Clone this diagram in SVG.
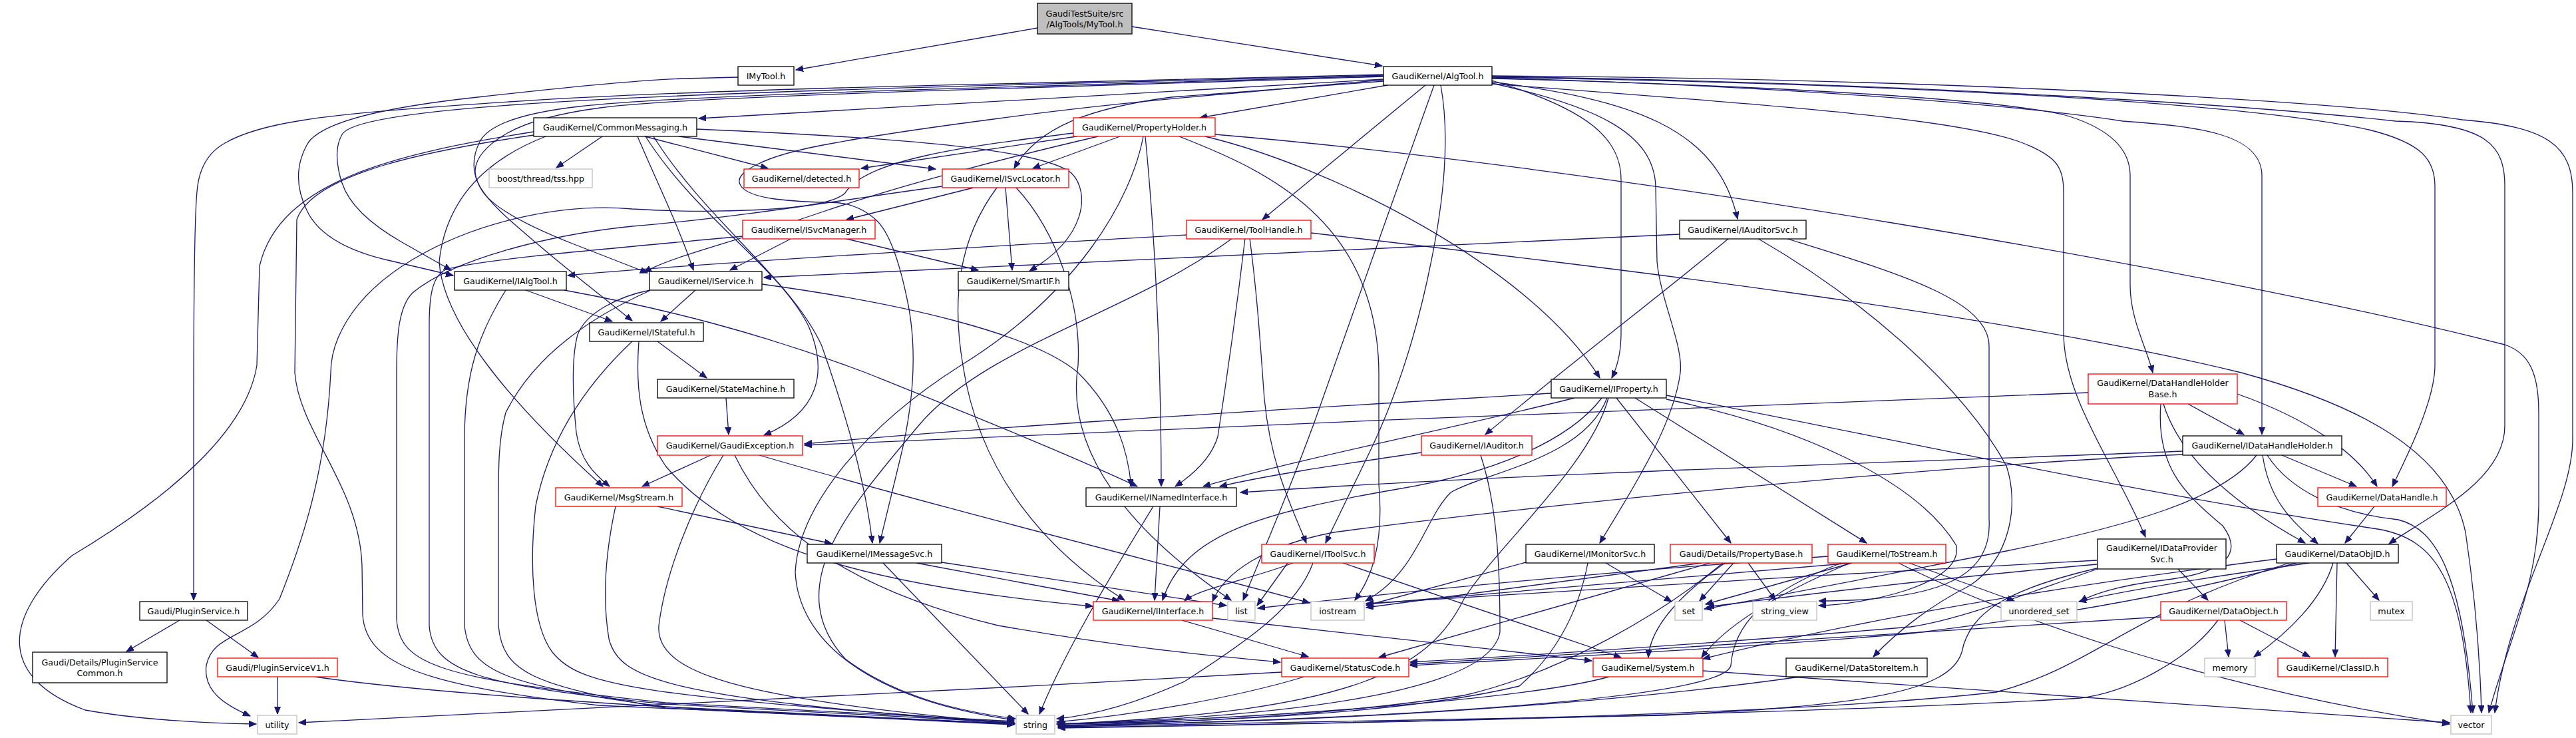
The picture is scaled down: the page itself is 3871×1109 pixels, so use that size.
<svg xmlns="http://www.w3.org/2000/svg" width="3871" height="1109" viewBox="0 0 3871 1109">
<style>
.node rect{fill:#fff;stroke:#000;stroke-width:1.3}
.node.red rect{stroke:#ff0000}
.node.sys rect{stroke:#bfbfbf}
.node.root rect{fill:#bfbfbf}
.node text{font-family:"DejaVu Sans","Liberation Sans",sans-serif;font-size:12.65px;fill:#000;text-anchor:middle}
#edges path{fill:none;stroke:#191970;stroke-width:1.3;marker-end:url(#a)}
</style>
<defs>
<marker id="a" markerUnits="userSpaceOnUse" markerWidth="14" markerHeight="12" refX="11" refY="4.5" orient="auto"><path d="M0,0 L11,4.5 L0,9 z" fill="#191970" stroke="#191970" stroke-width="1"/></marker>
</defs>
<rect x="0" y="0" width="3871" height="1109" fill="#fff"/>
<g id="edges">
<path d="M1559,42 L1196,105"/>
<path d="M1701,40 L2077,99"/>
<path d="M1109,116 L1030,118 Q950,120 718,146 Q485,171 461,218 Q436,264 461,316 Q485,368 583,391 L681,414"/>
<path d="M2079,119 L1050,178"/>
<path d="M2085,128 L1803,177"/>
<path d="M2079,122 L1760,146 C1640,162 1560,190 1524,253"/>
<path d="M2142,128 L1897,330"/>
<path d="M2079,113 L1540,127 Q1000,141 765,158 Q529,175 514,202 Q499,229 514,275 Q529,321 604,364 L678,406"/>
<path d="M2079,114 L1540,130 Q1000,145 870,160 Q740,175 721,213 Q702,250 724,286 Q746,321 860,366 L973,410"/>
<path d="M2079,115 L1540,132 Q1000,148 902,162 Q804,175 759,202 Q714,229 714,258 Q714,286 772,336 Q829,386 890,434 L950,482"/>
<path d="M2079,112 L1540,125 Q1000,137 765,153 Q529,168 453,181 Q376,193 338,215 Q300,236 296,288 Q291,339 291,620 L291,902"/>
<path d="M2079,120 L1866,139 Q1652,157 1493,179 Q1333,200 1253,215 Q1173,229 1138,247 Q1103,264 1113,279 Q1122,293 1164,299 Q1205,304 1247,304 Q1288,304 1317,331 Q1345,357 1365,459 Q1384,560 1353,688 L1322,816"/>
<path d="M2165,128 Q2184,232 2150,396 Q2117,560 2054,688 L1992,816"/>
<path d="M2155,128 L2078,344 Q2002,560 1976,632 Q1950,703 1909,803 L1868,902"/>
<path d="M2242,123 C2450,150 2580,190 2611,329"/>
<path d="M2242,121 C2390,165 2436,210 2436,270 L2436,500 Q2436,540 2422,568"/>
<path d="M2242,125 C2400,160 2485,200 2488,280 L2490,393 C2495,450 2530,520 2525,560 C2515,640 2450,740 2404,816"/>
<path d="M2242,118 C2700,130 3000,150 3100,172 C3180,195 3201,230 3201,264 L3201,428 C3201,480 3225,520 3235,560"/>
<path d="M2242,117 C2700,130 3050,160 3190,182 C3300,190 3399,200 3399,264 L3399,653"/>
<path d="M2242,116 C2800,125 3350,150 3560,195 C3640,215 3659,240 3659,280 L3659,549 C3659,600 3620,680 3595,731"/>
<path d="M2242,115 C2900,125 3400,160 3600,182 C3740,186 3764,220 3764,280 L3764,640 C3764,720 3660,770 3590,817"/>
<path d="M2242,114 C2900,118 3500,150 3700,180 C3830,190 3866,220 3866,290 L3866,660 C3866,760 3770,900 3749,1071"/>
<path d="M2242,126 C2700,160 2950,180 3040,215 C3090,235 3101,250 3101,290 L3101,500 C3101,600 3180,700 3224,807"/>
<path d="M905,205 L836,252"/>
<path d="M969,205 L1154,253"/>
<path d="M1020,205 L1406,254"/>
<path d="M1047,194 C1300,205 1560,220 1610,260 C1640,290 1630,360 1547,407"/>
<path d="M958,205 C990,280 1020,340 1042,406"/>
<path d="M982,205 C1060,330 1190,420 1235,520 C1270,620 1300,720 1311,816"/>
<path d="M970,205 C1050,330 1170,400 1215,490 C1245,560 1230,620 1148,654"/>
<path d="M820,205 C730,240 670,300 660,393 C665,480 760,600 906,731"/>
<path d="M802,198 C600,230 420,270 390,400 L386,549 C370,650 250,750 108,835 C0,930 0,1020 128,1067 C200,1080 300,1087 385,1088"/>
<path d="M802,203 C650,225 470,260 446,330 L443,560 C450,650 540,730 544,850 L545,924 C550,1000 640,1030 900,1060 L1525,1088"/>
<path d="M1618,205 L1294,253"/>
<path d="M1683,205 L1552,253"/>
<path d="M1811,205 C2000,250 2300,400 2404,568"/>
<path d="M1772,205 C1900,255 2070,330 2072,560 L2072,728 C2080,820 2060,870 2036,902"/>
<path d="M1826,202 C2400,250 3300,400 3764,518 C3800,530 3815,560 3815,620 L3815,756 C3815,880 3770,960 3740,1071"/>
<path d="M1721,205 C1740,400 1745,600 1745,731"/>
<path d="M1613,200 C1450,220 1300,240 1270,290 C1240,320 1050,320 950,314 C850,305 720,330 620,390 C520,450 497,520 497,560 C490,700 460,800 420,900 C380,960 320,950 310,1000 C305,1040 340,1060 376,1076"/>
<path d="M1650,205 C1500,240 1350,280 1237,318 C1100,365 1010,385 968,409"/>
<path d="M1718,205 C1700,300 1620,440 1444,549 C1300,640 1200,760 1195,860 C1200,960 1300,1050 1524,1082"/>
<path d="M1463,282 L1272,330"/>
<path d="M1511,282 L1521,406"/>
<path d="M1498,282 C1440,360 1430,450 1447,549 C1470,700 1560,820 1690,902"/>
<path d="M1527,282 C1590,350 1625,460 1620,549 C1600,680 1700,800 1850,902"/>
<path d="M1416,280 C1300,295 1113,327 950,340 C823,353 680,390 620,440 C600,460 596,500 596,560 L596,930 C600,1000 660,1020 1000,1056 L1524,1084"/>
<path d="M1190,358 L1097,406"/>
<path d="M1268,358 L1470,406"/>
<path d="M1116,355 C900,375 720,390 670,405 C648,415 645,450 645,490 L645,940 C650,1010 720,1030 1000,1058 L1524,1086"/>
<path d="M1783,353 C1400,375 1000,400 853,414"/>
<path d="M1871,358 C1860,450 1845,560 1830,656 C1820,690 1790,715 1766,731"/>
<path d="M1878,358 C1890,450 1894,520 1900,600 C1910,700 1940,760 1963,816"/>
<path d="M1852,358 C1700,470 1480,520 1380,640 C1280,760 1170,880 1270,990 C1350,1050 1450,1070 1526,1080"/>
<path d="M1970,350 C2400,400 3000,470 3368,560 C3550,610 3680,680 3705,800 C3720,900 3727,1000 3729,1071"/>
<path d="M2524,352 C2200,365 1700,390 1148,417"/>
<path d="M2598,358 C2500,440 2380,530 2232,653"/>
<path d="M2641,358 C2800,450 2950,580 3015,700 C3035,760 3020,840 2960,880 C2900,910 2850,950 2815,987"/>
<path d="M2683,358 C2850,410 2989,450 2989,520 L2989,780 C2994,860 2930,903 2733,903"/>
<path d="M790,436 L920,483"/>
<path d="M848,436 C1000,464 1141,500 1301,560 C1450,620 1600,680 1709,731"/>
<path d="M760,436 C720,500 698,560 698,660 L698,940 C705,1010 760,1030 1000,1062 L1524,1088"/>
<path d="M1045,436 L993,483"/>
<path d="M1145,427 C1350,455 1550,500 1620,560 C1680,620 1695,680 1700,731"/>
<path d="M976,437 C880,480 800,540 760,620 C749,660 749,700 749,760 L749,940 C755,1010 800,1030 1000,1064 L1524,1089"/>
<path d="M977,436 C930,445 880,470 868,503 C858,540 861,600 866,650 C872,690 890,710 916,731"/>
<path d="M988,513 L1062,568"/>
<path d="M960,513 C955,580 960,640 1000,700 C1100,820 1300,880 1642,911"/>
<path d="M950,513 C900,560 829,640 805,760 C795,850 800,940 830,980 C870,1030 950,1045 1524,1086"/>
<path d="M1091,598 L1095,653"/>
<path d="M1068,684 L965,731"/>
<path d="M1087,684 C1040,760 1000,860 990,940 C985,1010 1100,1050 1524,1087"/>
<path d="M1104,684 C1150,780 1250,880 1500,940 C1700,975 1820,985 1924,995"/>
<path d="M1141,684 C1400,760 1800,860 1968,906"/>
<path d="M988,761 L1250,817"/>
<path d="M925,761 C910,830 905,900 915,960 C930,1020 1000,1050 1524,1087"/>
<path d="M1377,846 L1682,903"/>
<path d="M1415,845 L1843,910"/>
<path d="M1327,846 L1545,1073"/>
<path d="M1743,761 L1735,902"/>
<path d="M1733,761 C1660,880 1600,980 1562,1073"/>
<path d="M1776,932 L1966,987"/>
<path d="M1822,929 C2000,950 2200,970 2392,993"/>
<path d="M2331,591 C1900,617 1500,640 1209,667"/>
<path d="M2366,598 C2200,640 1950,690 1808,731"/>
<path d="M2407,598 C2360,660 2250,710 2100,735 C1900,770 1780,800 1747,902"/>
<path d="M2415,598 C2380,690 2230,710 2180,740 C2140,780 2130,860 2052,903"/>
<path d="M2417,598 C2390,700 2250,820 2200,900 C2150,1000 2050,1070 1588,1088"/>
<path d="M2429,598 L2601,816"/>
<path d="M2457,598 L2805,816"/>
<path d="M2504,594 C2800,650 3200,740 3573,795 C3660,810 3700,870 3713,1071"/>
<path d="M2504,600 C2700,640 2880,720 2940,820 C2950,880 2800,908 2733,910"/>
<path d="M2136,680 C2000,700 1900,715 1833,731"/>
<path d="M2225,684 C2250,760 2254,850 2254,950 C2240,1030 2000,1075 1588,1088"/>
<path d="M1935,846 L1889,910"/>
<path d="M1943,846 C1880,870 1800,885 1780,903"/>
<path d="M2018,846 L2436,988"/>
<path d="M1973,846 C1950,910 1880,960 1780,1024 C1700,1060 1640,1075 1588,1080"/>
<path d="M2293,845 L2053,910"/>
<path d="M2413,846 L2512,904"/>
<path d="M2386,846 C2370,930 2330,990 2283,1031 C2100,1075 1800,1085 1590,1088"/>
<path d="M2605,846 L2554,903"/>
<path d="M2627,846 L2668,902"/>
<path d="M2592,846 C2530,890 2480,940 2477,988"/>
<path d="M2557,846 L2053,913"/>
<path d="M2570,846 L2072,988"/>
<path d="M2589,846 C2500,920 2350,1010 2200,1045 C2000,1075 1800,1085 1590,1090"/>
<path d="M2783,846 L2053,908"/>
<path d="M2783,846 L2563,908"/>
<path d="M2780,846 C2700,880 2600,930 2557,988"/>
<path d="M2767,846 C2650,890 2605,940 2601,1000 C2590,1050 2100,1080 1590,1091"/>
<path d="M2853,846 C3000,920 3300,1030 3681,1088"/>
<path d="M2869,846 L3027,903"/>
<path d="M2747,836 C2400,860 2100,890 1890,914"/>
<path d="M3138,590 C2600,612 1800,640 1209,669"/>
<path d="M3288,607 L3372,653"/>
<path d="M3362,592 C3470,630 3540,680 3572,731"/>
<path d="M3251,607 C3280,700 3380,770 3464,816"/>
<path d="M3247,607 C3240,700 3280,740 3340,790 C3370,830 3350,860 3250,872 C3180,880 3140,895 3126,904"/>
<path d="M3280,678 C3000,690 2300,710 1864,740"/>
<path d="M3280,683 C2900,700 2300,760 2004,800 C1900,820 1840,860 1822,904"/>
<path d="M3400,684 C3410,750 3440,780 3483,817"/>
<path d="M3429,684 L3541,731"/>
<path d="M3407,684 C3440,735 3509,771 3604,781 C3660,795 3700,860 3716,1071"/>
<path d="M3391,684 C3340,750 3200,790 3015,828 C2800,870 2650,900 2561,915"/>
<path d="M3568,761 L3524,816"/>
<path d="M3273,855 L3318,902"/>
<path d="M3152,855 C3050,890 2950,930 2871,942 C2600,965 2300,985 2119,995"/>
<path d="M3151,842 C2800,860 2300,890 2053,907"/>
<path d="M3151,848 C2900,870 2700,895 2565,912"/>
<path d="M3151,854 C3015,886 2960,920 2948,980 C2930,1040 2800,1060 2500,1075 L1590,1092"/>
<path d="M3470,846 C3300,870 3180,890 3124,904"/>
<path d="M3526,846 L3575,902"/>
<path d="M3506,846 C3490,900 3440,950 3387,987"/>
<path d="M3512,846 L3509,987"/>
<path d="M3451,846 C3250,900 3050,930 2871,952 C2600,975 2300,990 2119,1000"/>
<path d="M3440,846 C3200,920 3150,1000 3000,1040 C2700,1075 2000,1088 1590,1093"/>
<path d="M3421,840 C3100,880 2800,930 2559,990"/>
<path d="M3343,932 L3349,987"/>
<path d="M3366,932 L3471,987"/>
<path d="M3247,927 C2900,950 2500,975 2119,998"/>
<path d="M3333,932 C3290,990 3200,1040 3126,1049 C2800,1070 2000,1088 1590,1094"/>
<path d="M2705,1017 C2400,1060 2000,1085 1590,1090"/>
<path d="M2418,1017 C2300,1050 1900,1080 1590,1088"/>
<path d="M2559,1008 L3681,1086"/>
<path d="M1960,1017 C1850,1050 1700,1075 1588,1085"/>
<path d="M1926,1010 C1400,1040 800,1070 449,1086"/>
<path d="M270,932 L190,979"/>
<path d="M310,932 L388,988"/>
<path d="M417,1017 L417,1073"/>
<path d="M473,1017 C700,1050 1200,1075 1525,1087"/>
</g>
<g id="n_mytool" class="node root"><rect x="1559" y="5" width="142" height="46"/><text x="1630" y="24.5">GaudiTestSuite/src</text><text x="1630" y="40.5">/AlgTools/MyTool.h</text></g>
<g id="n_imytool" class="node"><rect x="1109" y="100" width="84" height="28"/><text x="1151" y="118.5">IMyTool.h</text></g>
<g id="n_algtool" class="node"><rect x="2079" y="100" width="163" height="28"/><text x="2160.5" y="118.5">GaudiKernel/AlgTool.h</text></g>
<g id="n_commonmessaging" class="node"><rect x="802" y="177" width="245" height="28"/><text x="924.5" y="195.5">GaudiKernel/CommonMessaging.h</text></g>
<g id="n_propertyholder" class="node red"><rect x="1613" y="177" width="213" height="28"/><text x="1719.5" y="195.5">GaudiKernel/PropertyHolder.h</text></g>
<g id="n_tss" class="node sys"><rect x="735" y="254" width="155" height="28"/><text x="812.5" y="272.5">boost/thread/tss.hpp</text></g>
<g id="n_detected" class="node red"><rect x="1118" y="254" width="173" height="28"/><text x="1204.5" y="272.5">GaudiKernel/detected.h</text></g>
<g id="n_isvclocator" class="node red"><rect x="1416" y="254" width="190" height="28"/><text x="1511" y="272.5">GaudiKernel/ISvcLocator.h</text></g>
<g id="n_isvcmanager" class="node red"><rect x="1116" y="331" width="199" height="28"/><text x="1215.5" y="349.5">GaudiKernel/ISvcManager.h</text></g>
<g id="n_toolhandle" class="node red"><rect x="1783" y="331" width="187" height="28"/><text x="1876.5" y="349.5">GaudiKernel/ToolHandle.h</text></g>
<g id="n_iauditorsvc" class="node"><rect x="2524" y="331" width="190" height="28"/><text x="2619" y="349.5">GaudiKernel/IAuditorSvc.h</text></g>
<g id="n_ialgtool" class="node"><rect x="683" y="408" width="168" height="28"/><text x="767" y="426.5">GaudiKernel/IAlgTool.h</text></g>
<g id="n_iservice" class="node"><rect x="976" y="408" width="169" height="28"/><text x="1060.5" y="426.5">GaudiKernel/IService.h</text></g>
<g id="n_smartif" class="node"><rect x="1440" y="408" width="166" height="28"/><text x="1523" y="426.5">GaudiKernel/SmartIF.h</text></g>
<g id="n_istateful" class="node"><rect x="886" y="485" width="171" height="28"/><text x="971.5" y="503.5">GaudiKernel/IStateful.h</text></g>
<g id="n_statemachine" class="node"><rect x="988" y="570" width="205" height="28"/><text x="1090.5" y="588.5">GaudiKernel/StateMachine.h</text></g>
<g id="n_iproperty" class="node"><rect x="2331" y="570" width="173" height="28"/><text x="2417.5" y="588.5">GaudiKernel/IProperty.h</text></g>
<g id="n_dhhbase" class="node red"><rect x="3138" y="562" width="224" height="45"/><text x="3250" y="579.5">GaudiKernel/DataHandleHolder</text><text x="3250" y="596.5">Base.h</text></g>
<g id="n_gaudiexception" class="node red"><rect x="988" y="655" width="218" height="29"/><text x="1097" y="673.5">GaudiKernel/GaudiException.h</text></g>
<g id="n_iauditor" class="node red"><rect x="2136" y="655" width="166" height="29"/><text x="2219" y="673.5">GaudiKernel/IAuditor.h</text></g>
<g id="n_idhh" class="node"><rect x="3280" y="655" width="239" height="29"/><text x="3399.5" y="673.5">GaudiKernel/IDataHandleHolder.h</text></g>
<g id="n_msgstream" class="node red"><rect x="835" y="733" width="190" height="28"/><text x="930" y="751.5">GaudiKernel/MsgStream.h</text></g>
<g id="n_inamedinterface" class="node"><rect x="1632" y="733" width="226" height="28"/><text x="1745" y="751.5">GaudiKernel/INamedInterface.h</text></g>
<g id="n_datahandle" class="node red"><rect x="3483" y="733" width="193" height="28"/><text x="3579.5" y="751.5">GaudiKernel/DataHandle.h</text></g>
<g id="n_imessagesvc" class="node"><rect x="1213" y="818" width="202" height="28"/><text x="1314" y="836.5">GaudiKernel/IMessageSvc.h</text></g>
<g id="n_itoolsvc" class="node red"><rect x="1896" y="818" width="169" height="28"/><text x="1980.5" y="836.5">GaudiKernel/IToolSvc.h</text></g>
<g id="n_imonitorsvc" class="node"><rect x="2293" y="818" width="193" height="28"/><text x="2389.5" y="836.5">GaudiKernel/IMonitorSvc.h</text></g>
<g id="n_propertybase" class="node red"><rect x="2510" y="818" width="213" height="28"/><text x="2616.5" y="836.5">Gaudi/Details/PropertyBase.h</text></g>
<g id="n_tostream" class="node red"><rect x="2747" y="818" width="177" height="28"/><text x="2835.5" y="836.5">GaudiKernel/ToStream.h</text></g>
<g id="n_idataprovidersvc" class="node"><rect x="3152" y="810" width="193" height="45"/><text x="3248.5" y="827.5">GaudiKernel/IDataProvider</text><text x="3248.5" y="844.5">Svc.h</text></g>
<g id="n_dataobjid" class="node"><rect x="3421" y="818" width="183" height="28"/><text x="3512.5" y="836.5">GaudiKernel/DataObjID.h</text></g>
<g id="n_pluginservice" class="node"><rect x="210" y="904" width="162" height="28"/><text x="291" y="922.5">Gaudi/PluginService.h</text></g>
<g id="n_iinterface" class="node red"><rect x="1643" y="904" width="179" height="28"/><text x="1732.5" y="922.5">GaudiKernel/IInterface.h</text></g>
<g id="n_list" class="node sys"><rect x="1845" y="904" width="41" height="28"/><text x="1865.5" y="922.5">list</text></g>
<g id="n_iostream" class="node sys"><rect x="1970" y="904" width="80" height="28"/><text x="2010" y="922.5">iostream</text></g>
<g id="n_set" class="node sys"><rect x="2517" y="904" width="41" height="28"/><text x="2537.5" y="922.5">set</text></g>
<g id="n_string_view" class="node sys"><rect x="2634" y="904" width="96" height="28"/><text x="2682" y="922.5">string_view</text></g>
<g id="n_unordered_set" class="node sys"><rect x="3007" y="904" width="114" height="28"/><text x="3064" y="922.5">unordered_set</text></g>
<g id="n_dataobject" class="node red"><rect x="3247" y="904" width="189" height="28"/><text x="3341.5" y="922.5">GaudiKernel/DataObject.h</text></g>
<g id="n_mutex" class="node sys"><rect x="3562" y="904" width="63" height="28"/><text x="3593.5" y="922.5">mutex</text></g>
<g id="n_pscommon" class="node"><rect x="49" y="980" width="202" height="46"/><text x="150" y="999.5">Gaudi/Details/PluginService</text><text x="150" y="1015.5">Common.h</text></g>
<g id="n_psv1" class="node red"><rect x="327" y="989" width="180" height="28"/><text x="417" y="1007.5">Gaudi/PluginServiceV1.h</text></g>
<g id="n_statuscode" class="node red"><rect x="1926" y="989" width="191" height="28"/><text x="2021.5" y="1007.5">GaudiKernel/StatusCode.h</text></g>
<g id="n_system" class="node red"><rect x="2394" y="989" width="165" height="28"/><text x="2476.5" y="1007.5">GaudiKernel/System.h</text></g>
<g id="n_datastoreitem" class="node"><rect x="2684" y="989" width="212" height="28"/><text x="2790" y="1007.5">GaudiKernel/DataStoreItem.h</text></g>
<g id="n_memory" class="node sys"><rect x="3313" y="989" width="76" height="28"/><text x="3351" y="1007.5">memory</text></g>
<g id="n_classid" class="node red"><rect x="3423" y="989" width="165" height="28"/><text x="3505.5" y="1007.5">GaudiKernel/ClassID.h</text></g>
<g id="n_utility" class="node sys"><rect x="387" y="1075" width="59" height="28"/><text x="416.5" y="1093.5">utility</text></g>
<g id="n_string" class="node sys"><rect x="1527" y="1075" width="58" height="28"/><text x="1556" y="1093.5">string</text></g>
<g id="n_vector" class="node sys"><rect x="3683" y="1075" width="61" height="28"/><text x="3713.5" y="1093.5">vector</text></g>
</svg>
